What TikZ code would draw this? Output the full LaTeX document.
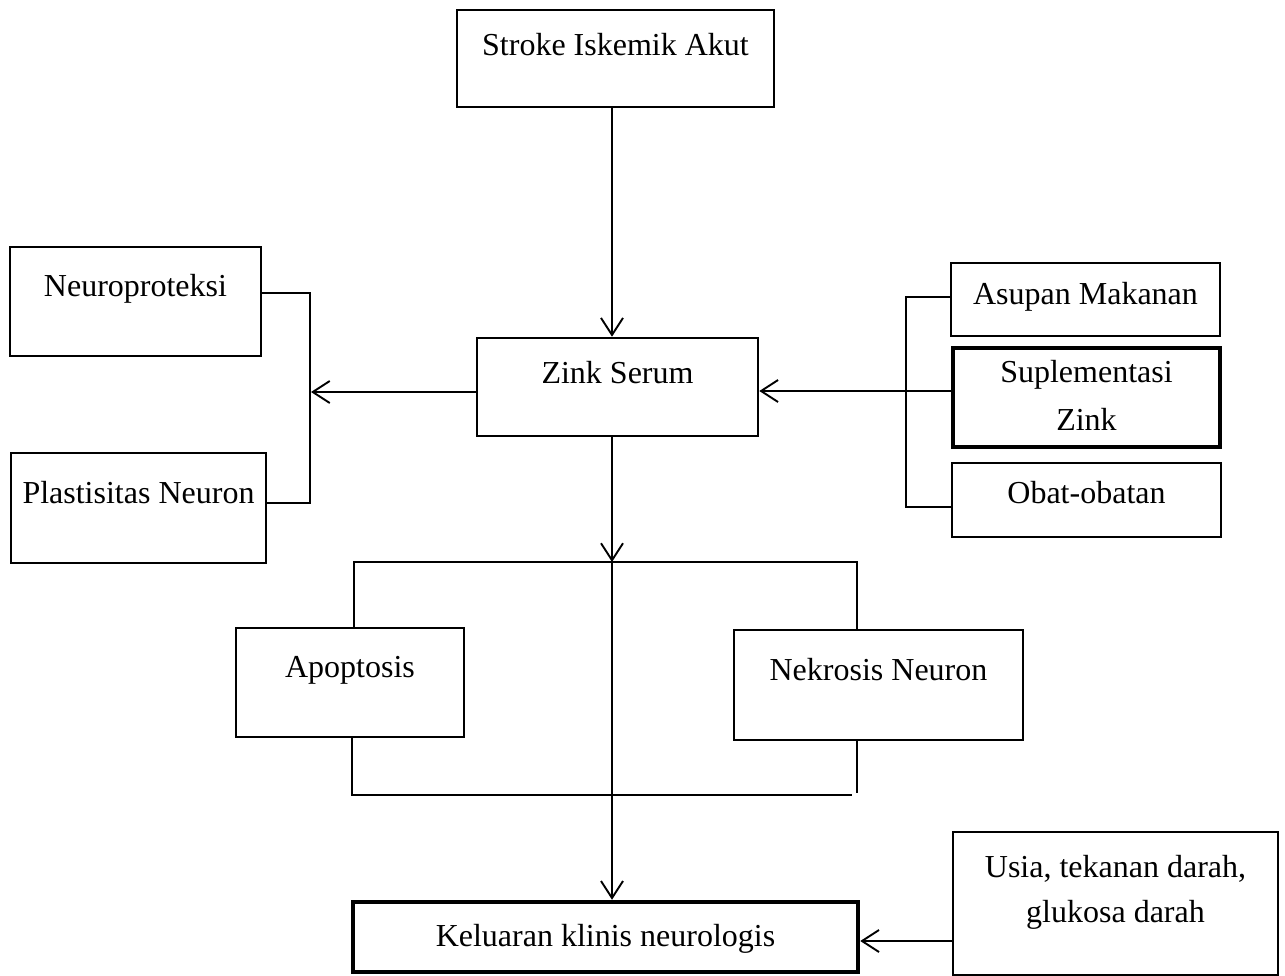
\documentclass[tikz,border=0pt]{standalone}
\usepackage{fontspec}
\setmainfont{Liberation Serif}
\usetikzlibrary{arrows.meta}
\begin{document}
\begin{tikzpicture}[x=1pt,y=-1pt,
  font=\fontsize{32}{46}\selectfont,
  bx/.style n args={4}{draw, line width=2.6pt, rectangle, inner xsep=0pt, inner ysep=0pt,
    minimum width=#1pt, minimum height=#2pt, text height=#3pt, text depth=#4pt},
  thickline/.style={line width=4.5pt},
  link/.style={line width=1.9pt},
  arr/.style={line width=1.9pt, -{Straight Barb[length=17pt,width=22pt]}}]
\useasboundingbox (0,0) rectangle (1285,975);

% boxes
\node[bx={317}{97}{45}{52}] (stroke) at (615.5,58.5) {Stroke Iskemik Akut};
\node[bx={281}{98}{45}{53}] (zink) at (617.5,387) {Zink Serum};
\node[bx={251}{109}{49}{60}] (neuro) at (135.5,301.5) {Neuroproteksi};
\node[bx={255}{110}{50}{60}] (plast) at (138.5,508) {Plastisitas Neuron};
\node[bx={228}{109}{49}{60}] (apop) at (350,682.5) {Apoptosis};
\node[bx={289}{110}{50}{60}] (nekro) at (878.5,685) {Nekrosis Neuron};
\node[bx={269}{73}{41}{32}] (asupan) at (1085.5,299.5) {Asupan Makanan};
\node[bx={267}{99}{34}{65}, thickline] (supl) at (1086.5,397.5)
  {\begin{tabular}[t]{@{}c@{}}Suplementasi\\[2pt] Zink\end{tabular}};
\node[bx={269}{74}{40}{34}] (obat) at (1086.5,500) {Obat-obatan};
\node[bx={505}{70}{44}{26}, thickline] (kel) at (605.5,937) {Keluaran klinis neurologis};
\node[bx={325}{143}{45}{98}] (usia) at (1115.5,903.5)
  {\begin{tabular}[t]{@{}c@{}}Usia, tekanan darah,\\[-1pt] glukosa darah\end{tabular}};

% helper coordinates
\coordinate (tm) at (612,562);
\coordinate (tl) at (354,562);
\coordinate (tr) at (857,562);
\coordinate (bl) at (352,795);
\coordinate (br) at (852,795);
\coordinate (bre) at (857,793);
\coordinate (lb1) at (310,293);
\coordinate (lb2) at (310,503);
\coordinate (lbm) at (311,392);
\coordinate (rb1) at (906,297);
\coordinate (rb2) at (906,507);
\coordinate (rbm) at (906,391);
\coordinate (uy) at (900,941);

% connectors
\draw[arr] (stroke.south -| tm) -- (zink.north -| tm);
\draw[arr] (zink.south -| tm) -- (tm);
\draw[link] (apop.north -| tl) -- (tl) -- (tr) -- (nekro.north -| tr);
\draw[arr] (tm) -- (kel.north -| tm);
\draw[link] (apop.south -| bl) -- (bl) -- (br);
\draw[link] (nekro.south -| bre) -- (bre);
\draw[link] (neuro.east |- lb1) -- (lb1) -- (lb2) -- (plast.east |- lb2);
\draw[arr] (zink.west |- lbm) -- (lbm);
\draw[link] (asupan.west |- rb1) -- (rb1) -- (rb2) -- (obat.west |- rb2);
\draw[link] (supl.west |- rbm) -- (rbm);
\draw[arr] (rbm) -- (zink.east |- rbm);
\draw[arr] (usia.west |- uy) -- (kel.east |- uy);
\end{tikzpicture}
\end{document}
